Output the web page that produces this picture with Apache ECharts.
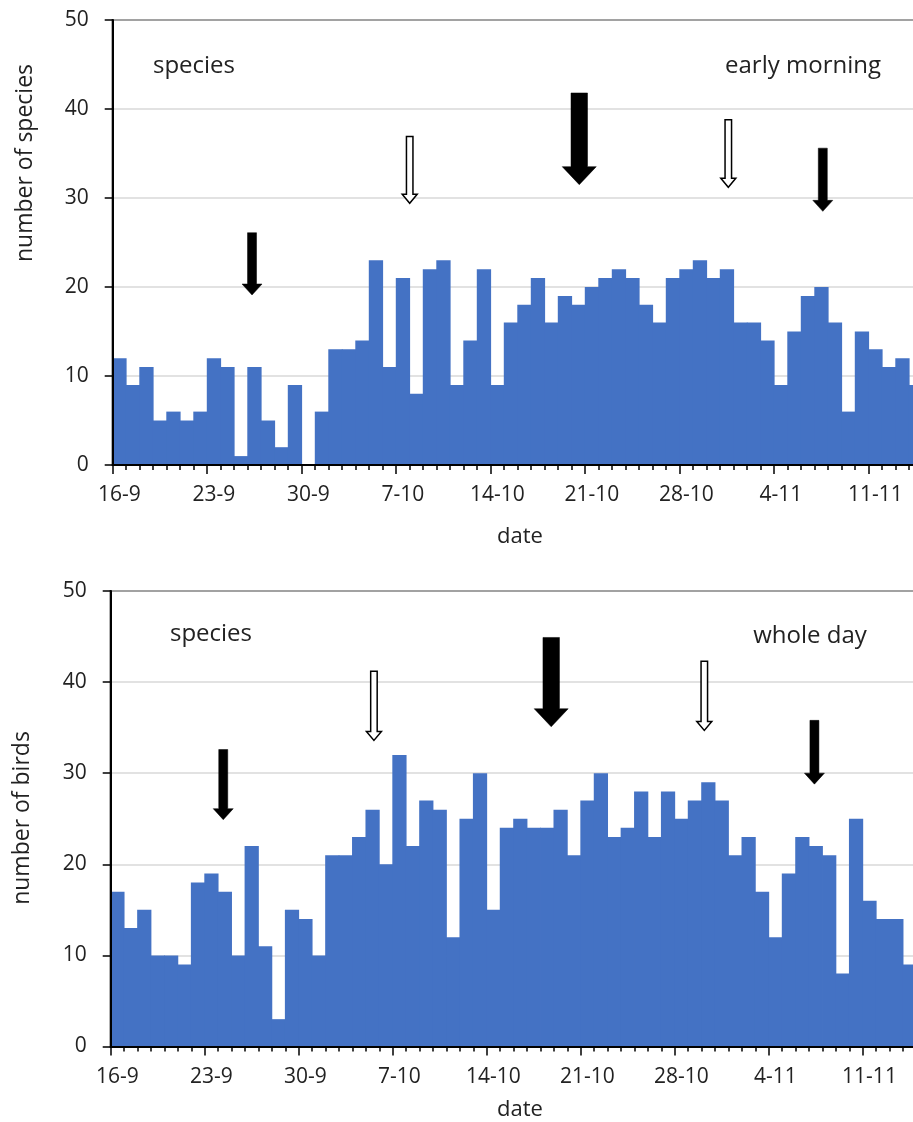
<!DOCTYPE html>
<html>
<head>
<meta charset="utf-8">
<title>Daily species counts</title>
<script src="https://cdn.jsdelivr.net/npm/echarts@6/dist/echarts.min.js"></script>
<style>
  html, body { margin: 0; padding: 0; background: #fff; overflow: hidden; }
  #chart { width: 960px; height: 1122px; }
</style>
</head>
<body>
<div id="chart"></div>
<script>
// Days of the survey, 16 September to 14 November
const dates = [
  '16-9','17-9','18-9','19-9','20-9','21-9','22-9','23-9','24-9','25-9','26-9','27-9','28-9','29-9','30-9',
  '1-10','2-10','3-10','4-10','5-10','6-10','7-10','8-10','9-10','10-10','11-10','12-10','13-10','14-10','15-10',
  '16-10','17-10','18-10','19-10','20-10','21-10','22-10','23-10','24-10','25-10','26-10','27-10','28-10','29-10','30-10','31-10',
  '1-11','2-11','3-11','4-11','5-11','6-11','7-11','8-11','9-11','10-11','11-11','12-11','13-11','14-11'
];

// Number of species recorded in the early morning count
const speciesMorning = [
  12, 9, 11, 5, 6, 5, 6, 12, 11, 1, 11, 5, 2, 9, 0,
  6, 13, 13, 14, 23, 11, 21, 8, 22, 23, 9, 14, 22, 9, 16,
  18, 21, 16, 19, 18, 20, 21, 22, 21, 18, 16, 21, 22, 23, 21, 22,
  16, 16, 14, 9, 15, 19, 20, 16, 6, 15, 13, 11, 12, 9
];

// Number of species recorded over the whole day
const speciesWholeDay = [
  17, 13, 15, 10, 10, 9, 18, 19, 17, 10, 22, 11, 3, 15, 14,
  10, 21, 21, 23, 26, 20, 32, 22, 27, 26, 12, 25, 30, 15, 24,
  25, 24, 24, 26, 21, 27, 30, 23, 24, 28, 23, 28, 25, 27, 29, 27,
  21, 23, 17, 12, 19, 23, 22, 21, 8, 25, 16, 14, 14, 9
];

// Markers: [day offset from 16-9, arrow top value, arrow tip value]
const morningArrows = [[10.32, 26.1, 19.1], [22.0, 36.9, 29.4], [34.56, 41.8, 31.5], [45.6, 38.8, 31.2], [52.6, 35.6, 28.5]];
const morningArrowKinds = ['solid', 'open', 'bold', 'open', 'solid'];
const wholeDayArrows = [[8.38, 32.6, 24.9], [19.6, 41.2, 33.6], [32.8, 44.9, 35.1], [44.2, 42.3, 34.7], [52.4, 35.8, 28.8]];
const wholeDayArrowKinds = ['solid', 'open', 'bold', 'open', 'solid'];

const yTicks = { min: 0, max: 50, interval: 10 };

const FONT = '"Open Sans", "Noto Sans", sans-serif';
const TEXT = '#222';
const BAR = '#4472C4';

const arrowShapes = {
  solid: { shaft: 9, head: 20, headLen: 11, filled: true },
  bold:  { shaft: 16.5, head: 34, headLen: 18, filled: true },
  open:  { shaft: 6.5, head: 15, headLen: 9, filled: false }
};

function arrowRenderer(kinds) {
  return function (params, api) {
    const top = api.coord([api.value(0), api.value(1)]);
    const tip = api.coord([api.value(0), api.value(2)]);
    const s = arrowShapes[kinds[params.dataIndex]];
    const cx = top[0], yb = tip[1] - s.headLen;
    const pts = [
      [cx - s.shaft / 2, top[1]], [cx + s.shaft / 2, top[1]], [cx + s.shaft / 2, yb],
      [cx + s.head / 2, yb], [cx, tip[1]], [cx - s.head / 2, yb], [cx - s.shaft / 2, yb]
    ];
    return {
      type: 'polygon',
      shape: { points: pts },
      style: { fill: s.filled ? '#000' : '#fff', stroke: '#000', lineWidth: s.filled ? 0.5 : 1.5 }
    };
  };
}

function xAxesFor(gridIndex) {
  return [
    {
      gridIndex, type: 'category', data: dates, position: 'bottom', boundaryGap: true, z: 10,
      axisLine: { show: true, onZero: false, lineStyle: { color: '#000', width: 2 } },
      axisTick: { show: true, interval: 0, length: 5, lineStyle: { color: '#000', width: 1.5 } },
      axisLabel: {
        interval: (i) => i % 7 === 0, margin: 20,
        fontFamily: FONT, fontSize: 21, color: TEXT
      },
      splitLine: { show: false }
    },
    {
      gridIndex, type: 'category', data: dates, position: 'bottom', boundaryGap: true, z: 10,
      axisLine: { show: false, onZero: false },
      axisTick: { show: true, interval: (i) => i % 7 === 0, length: 9, lineStyle: { color: '#000', width: 1.5 } },
      axisLabel: { show: false },
      splitLine: { show: false }
    },
    { gridIndex, type: 'value', min: 0, max: dates.length, show: false }
  ];
}

// Each panel gets a value axis that only draws the gridlines behind the bars,
// and a second one on the same side that draws the line, ticks and labels on top.
function yAxesFor(gridIndex) {
  return [
    {
      gridIndex, type: 'value', position: 'left', min: yTicks.min, max: yTicks.max, interval: yTicks.interval,
      axisLine: { show: false }, axisTick: { show: false }, axisLabel: { show: false },
      splitLine: { show: true, lineStyle: { color: '#d9d9d9', width: 1.5 } }
    },
    {
      gridIndex, type: 'value', position: 'left', offset: 0, min: yTicks.min, max: yTicks.max, interval: yTicks.interval, z: 10,
      axisLine: { show: true, onZero: false, lineStyle: { color: '#000', width: 2 } },
      axisTick: { show: true, length: 8, lineStyle: { color: '#000', width: 1.5 } },
      axisLabel: { margin: 24, fontFamily: FONT, fontSize: 21, color: TEXT },
      splitLine: { show: false }
    }
  ];
}

function label(text, x, y, size, rotate) {
  return {
    type: 'text', x, y, rotation: rotate ? Math.PI / 2 : 0,
    style: { text, fontFamily: FONT, fontSize: size, fill: TEXT, align: 'center', verticalAlign: 'middle' }
  };
}

// Slightly wider than the category so neighbouring days join without seams
const barStyle = { color: BAR, borderWidth: 0 };

const chart = echarts.init(document.getElementById('chart'), null, { renderer: 'canvas' });
chart.setOption({
  animation: false,
  grid: [
    { left: 112.7, top: 20, width: 60 * 13.5, height: 445, show: true, borderColor: '#000', borderWidth: 2, containLabel: false },
    { left: 110.7, top: 591, width: 60 * 13.43, height: 455.5, show: true, borderColor: '#000', borderWidth: 2, containLabel: false }
  ],
  xAxis: [...xAxesFor(0), ...xAxesFor(1)],
  yAxis: [...yAxesFor(0), ...yAxesFor(1)],
  series: [
    { type: 'bar', xAxisIndex: 0, yAxisIndex: 0, data: speciesMorning, barWidth: '106%', itemStyle: barStyle },
    { type: 'bar', xAxisIndex: 3, yAxisIndex: 2, data: speciesWholeDay, barWidth: '106%', itemStyle: barStyle },
    { type: 'custom', xAxisIndex: 2, yAxisIndex: 0, data: morningArrows, encode: { x: 0, y: [1, 2] },
      renderItem: arrowRenderer(morningArrowKinds), z: 5 },
    { type: 'custom', xAxisIndex: 5, yAxisIndex: 2, data: wholeDayArrows, encode: { x: 0, y: [1, 2] },
      renderItem: arrowRenderer(wholeDayArrowKinds), z: 5 }
  ],
  graphic: [
    label('species', 194, 66, 24),
    label('early morning', 803, 66, 24),
    label('number of species', 25, 163, 23, true),
    label('date', 520, 537, 22),
    label('species', 211, 634, 24),
    label('whole day', 810, 636, 24),
    label('number of birds', 22, 818, 23, true),
    label('date', 520, 1110, 22)
  ]
});
</script>
</body>
</html>
